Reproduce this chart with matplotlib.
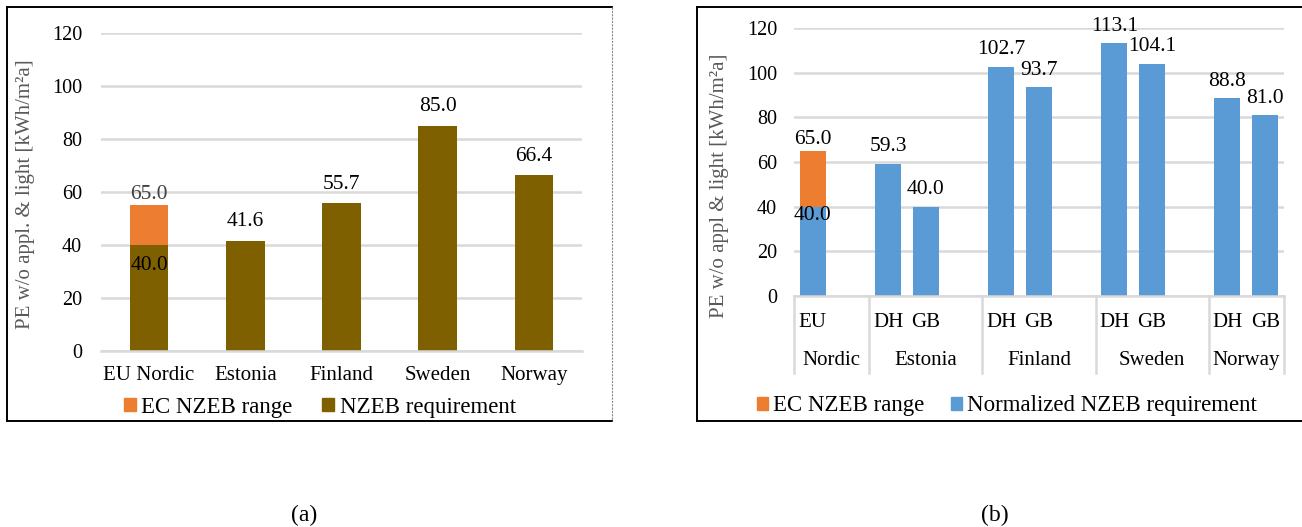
import numpy as np
import matplotlib
matplotlib.use("Agg")
from matplotlib import pyplot as plt
from matplotlib.lines import Line2D
from matplotlib.patches import Patch
from matplotlib.transforms import blended_transform_factory

plt.rcParams['font.family'] = ['Liberation Serif', 'DejaVu Serif']

W, H = 1302, 527
BROWN = '#7f6000'
ORANGE = '#ed7d31'
BLUE = '#5b9bd5'
GRID = '#d9d9d9'

# (a) national NZEB requirements
countries_a = ["EU Nordic", "Estonia", "Finland", "Sweden", "Norway"]
nzeb_a = [40.0, 41.6, 55.7, 85.0, 66.4]
ec_range_a = [15.0, 0.0, 0.0, 0.0, 0.0]   # orange segment on top of EU Nordic
ec_label_a = "65.0"

# (b) normalized requirements, DH = district heating, GB = ground source heat pump
slots_b = ["EU", "", "DH", "GB", "", "DH", "GB", "", "DH", "GB", "", "DH", "GB"]
norm_b = [40.0, np.nan, 59.3, 40.0, np.nan, 102.7, 93.7, np.nan, 113.1, 104.1, np.nan, 88.8, 81.0]
ec_range_b = [25.0, 0, 0, 0, 0, 0, 0, 0, 0, 0, 0, 0, 0]
ec_label_b = "65.0"
groups_b = ["Nordic", "Estonia", "Finland", "Sweden", "Norway"]
group_edges_b = [-0.5, 1.5, 4.5, 7.5, 10.5, 12.5]


def px_axes(fig, x0, y0, x1, y1):
    return fig.add_axes([x0 / W, 1 - y1 / H, (x1 - x0) / W, (y1 - y0) / H])


def style(ax, pad):
    for s in ax.spines.values():
        s.set_visible(False)
    ax.spines['bottom'].set_visible(True)
    ax.spines['bottom'].set_color(GRID)
    ax.spines['bottom'].set_linewidth(1.8)
    ax.set_ylim(0, 120)
    ax.set_yticks(range(0, 121, 20))
    ax.grid(axis='y', color=GRID, lw=1.8)
    ax.set_axisbelow(True)
    ax.tick_params(axis='y', length=0, labelsize=14.5, pad=pad)


def frame(x0, x1, y0, y1, right=True):
    kw = dict(color='black', lw=1.4, transform=fig.transFigure)
    fig.add_artist(Line2D([x0 / W, x1 / W], [1 - y0 / H, 1 - y0 / H], **kw))
    fig.add_artist(Line2D([x0 / W, x1 / W], [1 - y1 / H, 1 - y1 / H], **kw))
    fig.add_artist(Line2D([x0 / W, x0 / W], [1 - y0 / H, 1 - y1 / H], **kw))
    if right:
        fig.add_artist(Line2D([x1 / W, x1 / W], [1 - y0 / H, 1 - y1 / H], color='#8c8c8c',
                              lw=0.8, ls=(0, (2, 1)), transform=fig.transFigure))


fig = plt.figure(figsize=(W / 100, H / 100), dpi=100)

# ---------------- (a) ----------------
ax = px_axes(fig, 101, 33, 582, 351)
style(ax, 13.7)
xa = np.arange(len(countries_a))
ax.bar(xa, nzeb_a, width=0.4, color=BROWN)
ax.bar(xa[:1], ec_range_a[:1], bottom=nzeb_a[:1], width=0.4, color=ORANGE)
ax.set_xlim(-0.5, len(countries_a) - 0.5)
ax.set_xticks(xa, countries_a)
ax.tick_params(axis='x', length=0, labelsize=15, pad=11)
for i, v in enumerate(nzeb_a):
    off = -14.5 if ec_range_a[i] > 0 else 13.7
    ax.annotate(f"{v:.1f}", (i, v), xytext=(0, off), textcoords='offset points',
                ha='center', va='center', fontsize=15.5)
ax.annotate(ec_label_a, (0, nzeb_a[0] + ec_range_a[0]), xytext=(0, 7.5),
            textcoords='offset points', ha='center', va='center', fontsize=15.5, color='#404040')
ax.set_ylabel("PE w/o appl. & light [kWh/m²a]", fontsize=15, color='#595959', va='center')
ax.yaxis.set_label_coords(-0.156, 0.492)

fig.legend(handles=[Patch(color=ORANGE, label="EC NZEB range"),
                    Patch(color=BROWN, label="NZEB requirement")],
           loc='center', bbox_to_anchor=(320 / W, 1 - 407 / H), ncol=2, frameon=False,
           fontsize=16.5, handlelength=0.52, handleheight=0.52, handletextpad=0.25,
           columnspacing=1.3, borderpad=0, borderaxespad=0)

# ---------------- (b) ----------------
bx = px_axes(fig, 794, 28, 1284, 296)
style(bx, 12.2)
xb = np.arange(len(slots_b))
bx.bar(xb, norm_b, width=0.69, color=BLUE)
bx.bar(xb[:1], ec_range_b[:1], bottom=norm_b[:1], width=0.69, color=ORANGE)
bx.set_xlim(-0.5, len(slots_b) - 0.5)
bx.set_xticks([])
tr = blended_transform_factory(bx.transData, bx.transAxes)
for i, v in enumerate(norm_b):
    if np.isnan(v):
        continue
    off = -6.5 if ec_range_b[i] > 0 else 12
    bx.annotate(f"{v:.1f}", (i, v), xytext=(0, off), textcoords='offset points',
                ha='center', va='center', fontsize=15.5)
bx.annotate(ec_label_b, (0, norm_b[0] + ec_range_b[0]), xytext=(0, 8),
            textcoords='offset points', ha='center', va='center', fontsize=15.5)
for i, s in enumerate(slots_b):
    bx.text(i, -0.0996, s, transform=tr, ha='center', va='center', fontsize=15)
for j, g in enumerate(groups_b):
    c = (group_edges_b[j] + group_edges_b[j + 1]) / 2
    bx.text(c, -0.2425, g, transform=tr, ha='center', va='center', fontsize=15)
for e in group_edges_b:
    bx.plot([e, e], [0, -0.287], transform=tr, color=GRID, lw=1.8, clip_on=False)
bx.set_ylabel("PE w/o appl & light [kWh/m²a]", fontsize=15, color='#595959', va='center')
bx.yaxis.set_label_coords(-0.153, 0.41)

fig.legend(handles=[Patch(color=ORANGE, label="EC NZEB range"),
                    Patch(color=BLUE, label="Normalized NZEB requirement")],
           loc='center', bbox_to_anchor=(1007 / W, 1 - 406 / H), ncol=2, frameon=False,
           fontsize=16.5, handlelength=0.48, handleheight=0.48, handletextpad=0.2,
           columnspacing=1.2, borderpad=0, borderaxespad=0)

frame(7, 612, 7, 421)
frame(697, 1310, 7, 421, right=False)

fig.text(304 / W, 1 - 515 / H, "(a)", ha='center', va='center', fontsize=17)
fig.text(995 / W, 1 - 515 / H, "(b)", ha='center', va='center', fontsize=17)

fig.savefig("out.png", dpi=100)
